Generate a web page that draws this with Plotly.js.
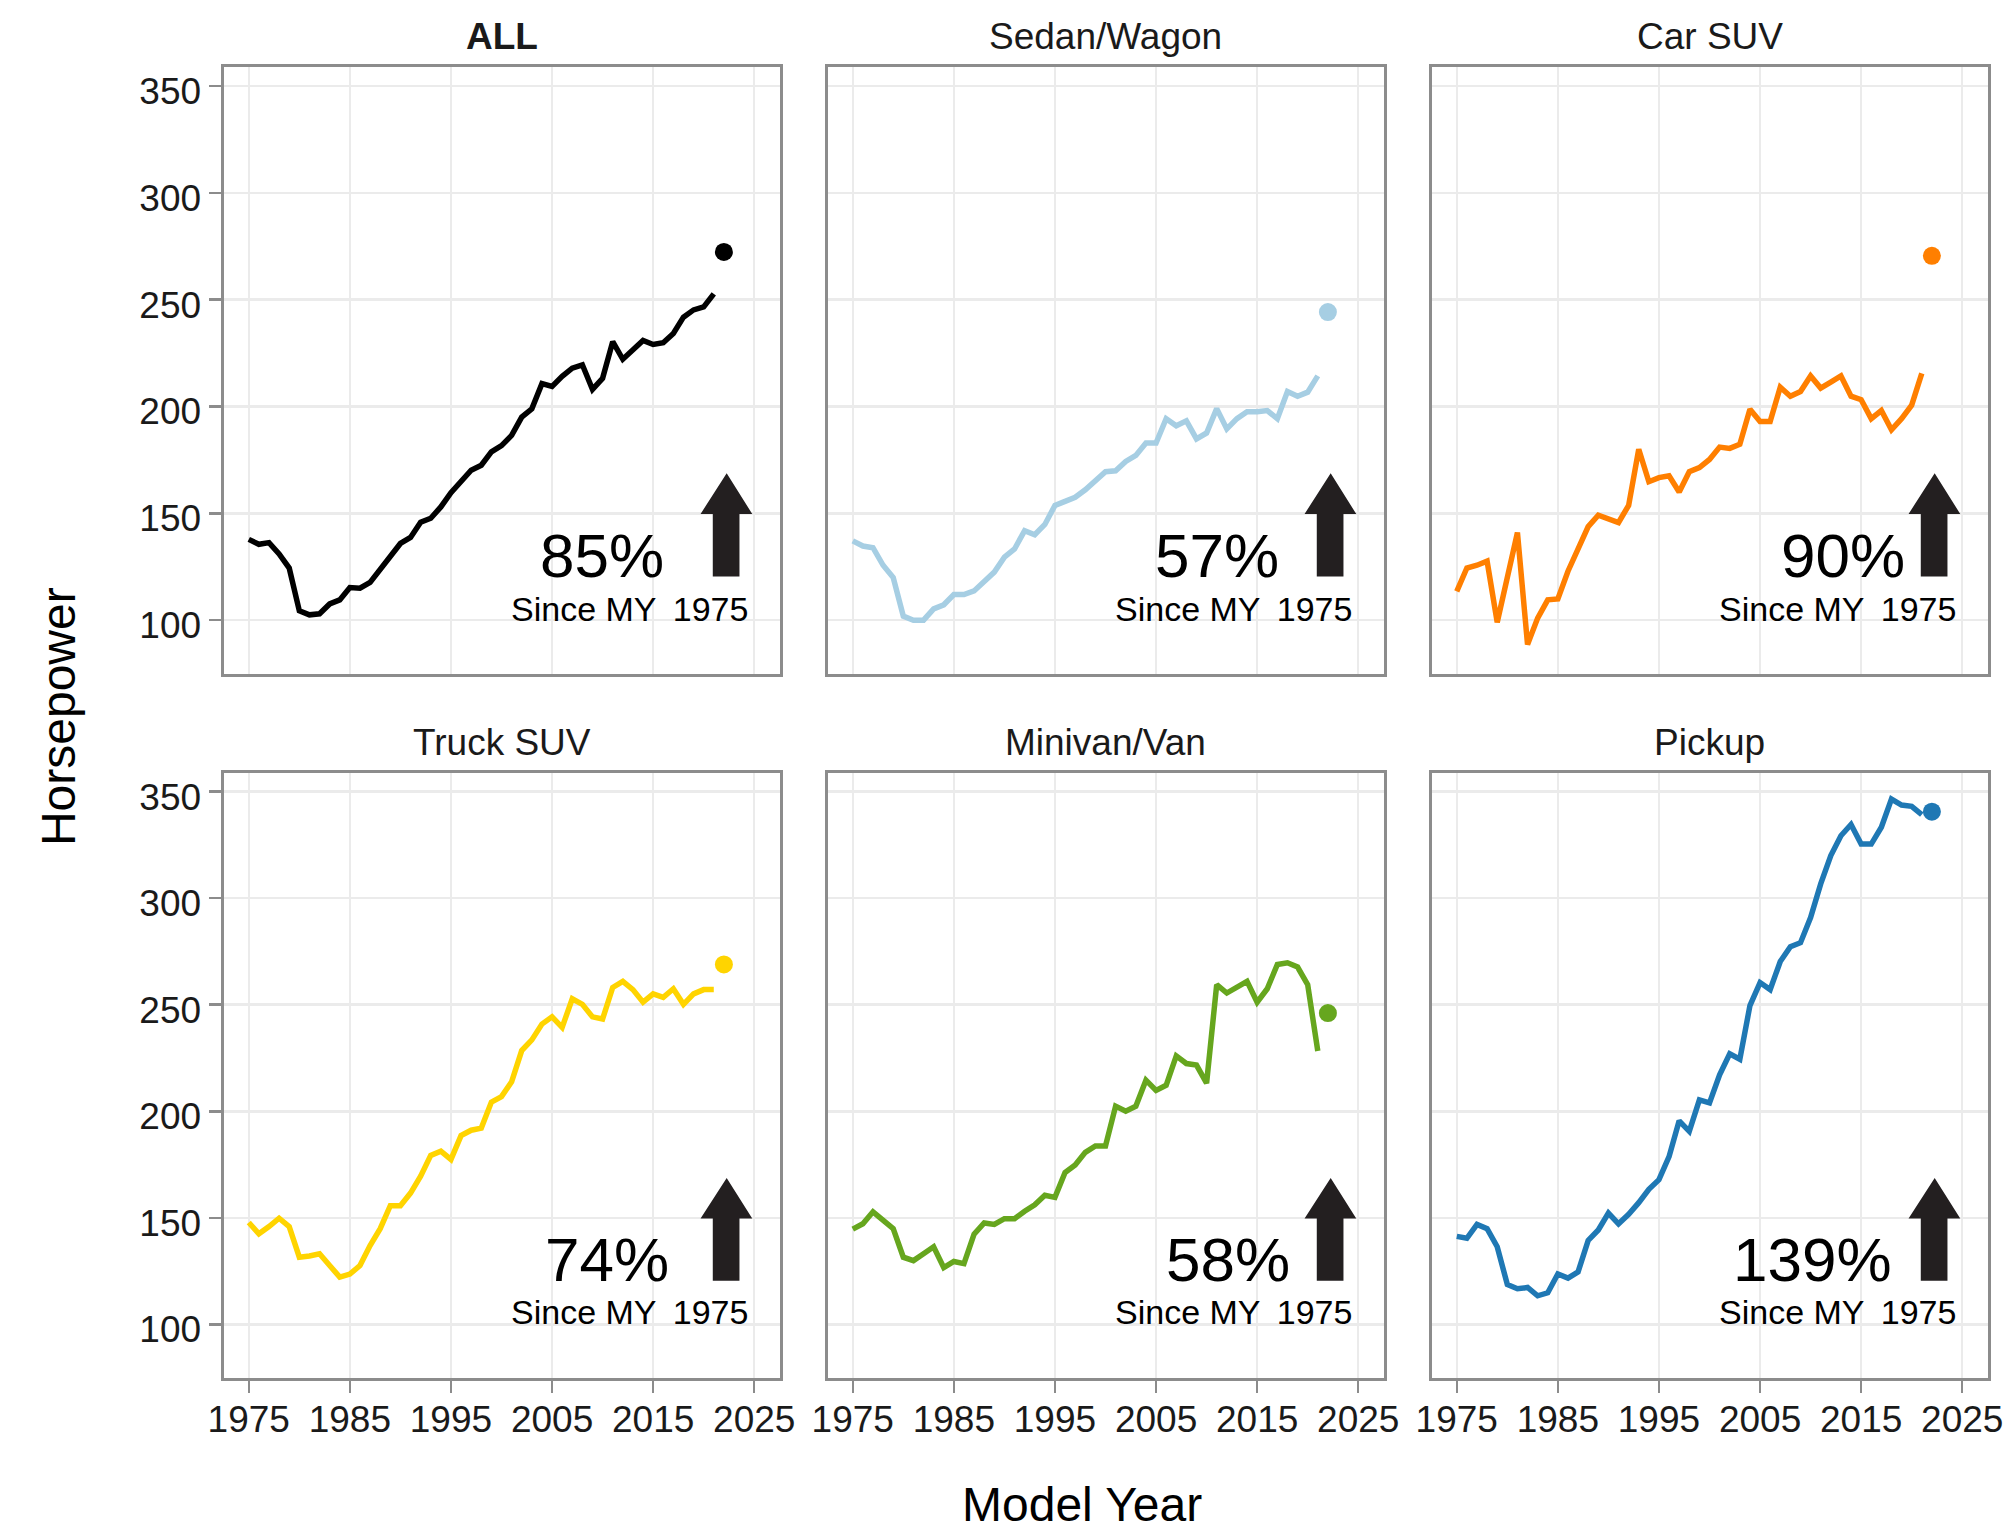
<!DOCTYPE html>
<html>
<head>
<meta charset="utf-8">
<script src="https://cdn.plot.ly/plotly-3.0.1.min.js"></script>
<style>
  html, body { margin: 0; padding: 0; background: #ffffff; }
  #chart { width: 2008px; height: 1530px; }
</style>
</head>
<body>
<div id="chart"></div>
<script>
// ---------------- DATA ----------------
const years = [1975, 1976, 1977, 1978, 1979, 1980, 1981, 1982, 1983, 1984,
               1985, 1986, 1987, 1988, 1989, 1990, 1991, 1992, 1993, 1994,
               1995, 1996, 1997, 1998, 1999, 2000, 2001, 2002, 2003, 2004,
               2005, 2006, 2007, 2008, 2009, 2010, 2011, 2012, 2013, 2014,
               2015, 2016, 2017, 2018, 2019, 2020, 2021];
const prelimYear = [2022];

const panelTitles = ["ALL", "Sedan/Wagon", "Car SUV", "Truck SUV", "Minivan/Van", "Pickup"];

const hpAll = [137.8, 135.5, 136.3, 131, 124.4, 104.4, 102.5, 103, 107.6, 109.5,
               115.3, 115, 117.7, 123.5, 129.2, 135.9, 138.7, 145.8, 147.7, 153,
               159.7, 164.9, 170.2, 172.5, 178.8, 181.7, 186.5, 195, 198.9, 210.7,
               209.4, 214.1, 217.9, 219.5, 208, 213.2, 230.3, 222.1, 226.5, 230.9,
               229, 229.8, 234.2, 241.8, 245.2, 246.6, 252.7];
const hpSedan = [137.1, 134.7, 133.9, 125.7, 120, 101.9, 100, 100, 105.3, 107.2,
                 112, 112, 113.7, 118.1, 122.5, 129.5, 133.3, 141.9, 140, 144.8,
                 153.7, 155.6, 157.5, 161, 165.7, 169.5, 169.9, 174.3, 177.1, 182.9,
                 182.9, 194.3, 191, 193.3, 184.8, 187.6, 199, 189.5, 194.3, 197.5,
                 197.5, 198.1, 194.3, 207, 204.8, 206.7, 214.3];
const hpCarSUV = [113.5, 124.4, 125.7, 127.6, 99, 121, 141, 88.6, 101, 109.5,
                  109.9, 122.9, 133.3, 143.8, 149.1, 147.2, 145.7, 153.7, 180, 164.8,
                  166.7, 167.6, 160, 169.5, 171.4, 175.2, 181, 180.4, 182.3, 198.7,
                  193, 193, 209, 204.8, 207, 214.3, 208.6, 211.4, 214.3, 204.8,
                  203.2, 194.3, 198.1, 189.1, 194.3, 200.6, 215.5];
const hpTruckSUV = [147.8, 142.5, 145.9, 149.8, 145.9, 131.5, 132.1, 133.1, 127.6, 122.2,
                    123.6, 127.6, 137, 144.9, 155.7, 155.7, 161.6, 169.5, 179.3, 181.3,
                    177.4, 188.6, 191.1, 192.1, 204.3, 206.9, 213.8, 228.5, 233.5, 240.9,
                    244.3, 239.4, 252.8, 250.2, 244.3, 243.3, 258.1, 261, 257.1, 251.2,
                    255.1, 253.5, 257.5, 250.2, 255.1, 257.1, 257.1];
const hpMinivan = [144.7, 147.2, 152.8, 149.2, 144.9, 131.5, 129.9, 133.1, 136.4, 126.6,
                   129.5, 128.5, 142.3, 147.6, 146.9, 149.6, 149.6, 153.1, 156.1, 160.6,
                   159.6, 171.3, 174.8, 180.7, 183.7, 183.7, 202.4, 200, 202.4, 214.6,
                   209.8, 212.2, 226, 222.4, 221.7, 213.2, 259.4, 255.5, 257.9, 261,
                   251.2, 257.5, 268.9, 269.7, 267.7, 259.4, 228.3];
const hpPickup = [141.3, 140.4, 146.9, 144.9, 136.4, 118.7, 116.7, 117.3, 113.4, 114.8,
                  123.6, 121.7, 124.6, 139.4, 144.3, 152.2, 147.2, 151.6, 157.1, 163.4,
                  167.9, 178.7, 195.5, 190.6, 205.3, 203.9, 217.1, 227, 224.4, 249.6,
                  260.4, 257.1, 270.3, 277.2, 279.1, 290.9, 306.7, 320, 329.3, 334.6,
                  325.4, 325.4, 333.3, 346.5, 343.7, 343.1, 339.2];

const hpPrelim = [272.3, 244.2, 270.5, 268.9, 246.1, 340.6];
const pctLabels = ["85%", "57%", "90%", "74%", "58%", "139%"];
const sinceLabel = "Since MY\u2009 1975";

const xTicks = [1975, 1985, 1995, 2005, 2015, 2025];
const yTicks = [100, 150, 200, 250, 300, 350];

// ---------------- STYLE ----------------
const series = [hpAll, hpSedan, hpCarSUV, hpTruckSUV, hpMinivan, hpPickup];
const colors = ["#000000", "#a6cee3", "#ff7f00", "#ffd400", "#66a61e", "#1f78b4"];
const FONT = "Liberation Sans, Arial, Helvetica, sans-serif";
const TXT = "#1a1a1a";
const W = 2008, H = 1530;

const colDom = [[223.5 / W, 779.5 / W], [827.5 / W, 1383.5 / W], [1431.5 / W, 1987.5 / W]];
const rowDom = [[1 - 673.6 / H, 1 - 66.7 / H], [1 - 1377.6 / H, 1 - 772.5 / H]];
const pctX = [0.795, 0.816, 0.855, 0.805, 0.836, 0.832];
const pctShift = [-16, -16, -16, -15, -15, -15];
const sinceShift = [-10, -10, -10, -9, -9, -9];

const traces = [];
const layout = {
  width: W, height: H,
  margin: {l: 0, r: 0, t: 0, b: 0},
  paper_bgcolor: "#ffffff",
  plot_bgcolor: "#ffffff",
  showlegend: false,
  font: {family: FONT, color: TXT},
  annotations: [],
  shapes: []
};

for (let i = 0; i < 6; i++) {
  const row = Math.floor(i / 3), col = i % 3;
  const sfx = i === 0 ? "" : String(i + 1);
  const xa = "x" + sfx, ya = "y" + sfx;

  traces.push({
    x: years, y: series[i], type: "scatter", mode: "lines",
    xaxis: xa, yaxis: ya,
    line: {color: colors[i], width: 5.5},
    hoverinfo: "x+y"
  });
  traces.push({
    x: prelimYear, y: [hpPrelim[i]], type: "scatter", mode: "markers",
    xaxis: xa, yaxis: ya,
    marker: {color: colors[i], size: 18},
    hoverinfo: "x+y"
  });

  layout["xaxis" + sfx] = {
    domain: colDom[col], anchor: ya, range: [1972.5, 2027.5],
    tickmode: "array", tickvals: xTicks,
    showticklabels: row === 1, ticks: row === 1 ? "outside" : "",
    ticklen: 12, tickwidth: 2.5, tickcolor: "#8c8c8c",
    ticklabelstandoff: -5,
    tickfont: {size: 37, color: TXT, family: FONT},
    showgrid: true, gridcolor: "#ebebeb", gridwidth: 2.5,
    zeroline: false, showline: true, mirror: true,
    linecolor: "#8c8c8c", linewidth: 3, fixedrange: true
  };
  layout["yaxis" + sfx] = {
    domain: rowDom[row], anchor: xa, range: [75, 359],
    tickmode: "array", tickvals: yTicks,
    showticklabels: col === 0, ticks: col === 0 ? "outside" : "",
    ticklen: 12, tickwidth: 2.5, tickcolor: "#8c8c8c",
    ticklabelshift: 5,
    tickfont: {size: 37, color: TXT, family: FONT},
    showgrid: true, gridcolor: "#ebebeb", gridwidth: 2.5,
    zeroline: false, showline: true, mirror: true,
    linecolor: "#8c8c8c", linewidth: 3, fixedrange: true
  };

  // panel title
  layout.annotations.push({
    xref: "paper", yref: "paper",
    x: (colDom[col][0] + colDom[col][1]) / 2, y: rowDom[row][1],
    xanchor: "center", yanchor: "bottom", yshift: 8,
    text: i === 0 ? "<b>" + panelTitles[i] + "</b>" : panelTitles[i],
    showarrow: false,
    font: {size: 37, color: TXT, family: FONT}
  });
  // percentage
  layout.annotations.push({
    xref: xa + " domain", yref: ya + " domain",
    x: pctX[i], y: 0.16, xanchor: "right", yanchor: "bottom", yshift: pctShift[i],
    text: pctLabels[i], showarrow: false,
    font: {size: 62, color: "#000000", family: FONT}
  });
  // since label
  layout.annotations.push({
    xref: xa + " domain", yref: ya + " domain",
    x: 0.947, y: 0.088, xanchor: "right", yanchor: "bottom", yshift: sinceShift[i],
    text: sinceLabel, showarrow: false,
    font: {size: 34, color: "#000000", family: FONT}
  });
  // up arrow
  layout.shapes.push({
    type: "path", xref: xa + " domain", yref: ya + " domain",
    path: "M 0.880 0.16 L 0.928 0.16 L 0.928 0.263 L 0.951 0.263 L 0.905 0.33 L 0.858 0.263 L 0.880 0.263 Z",
    fillcolor: "#231f20", line: {color: "#231f20", width: 0}
  });
}

// global axis titles
layout.annotations.push({
  xref: "paper", yref: "paper", x: 58.4 / W, y: 1 - 716.7 / H,
  xanchor: "center", yanchor: "middle", textangle: -90,
  text: "Horsepower", showarrow: false,
  font: {size: 48, color: "#000000", family: FONT}
});
layout.annotations.push({
  xref: "paper", yref: "paper", x: 1082 / W, y: 0,
  xanchor: "center", yanchor: "bottom", yshift: -3,
  text: "Model Year", showarrow: false,
  font: {size: 48, color: "#000000", family: FONT}
});

Plotly.newPlot("chart", traces, layout, {displayModeBar: false, staticPlot: true});
</script>
</body>
</html>
